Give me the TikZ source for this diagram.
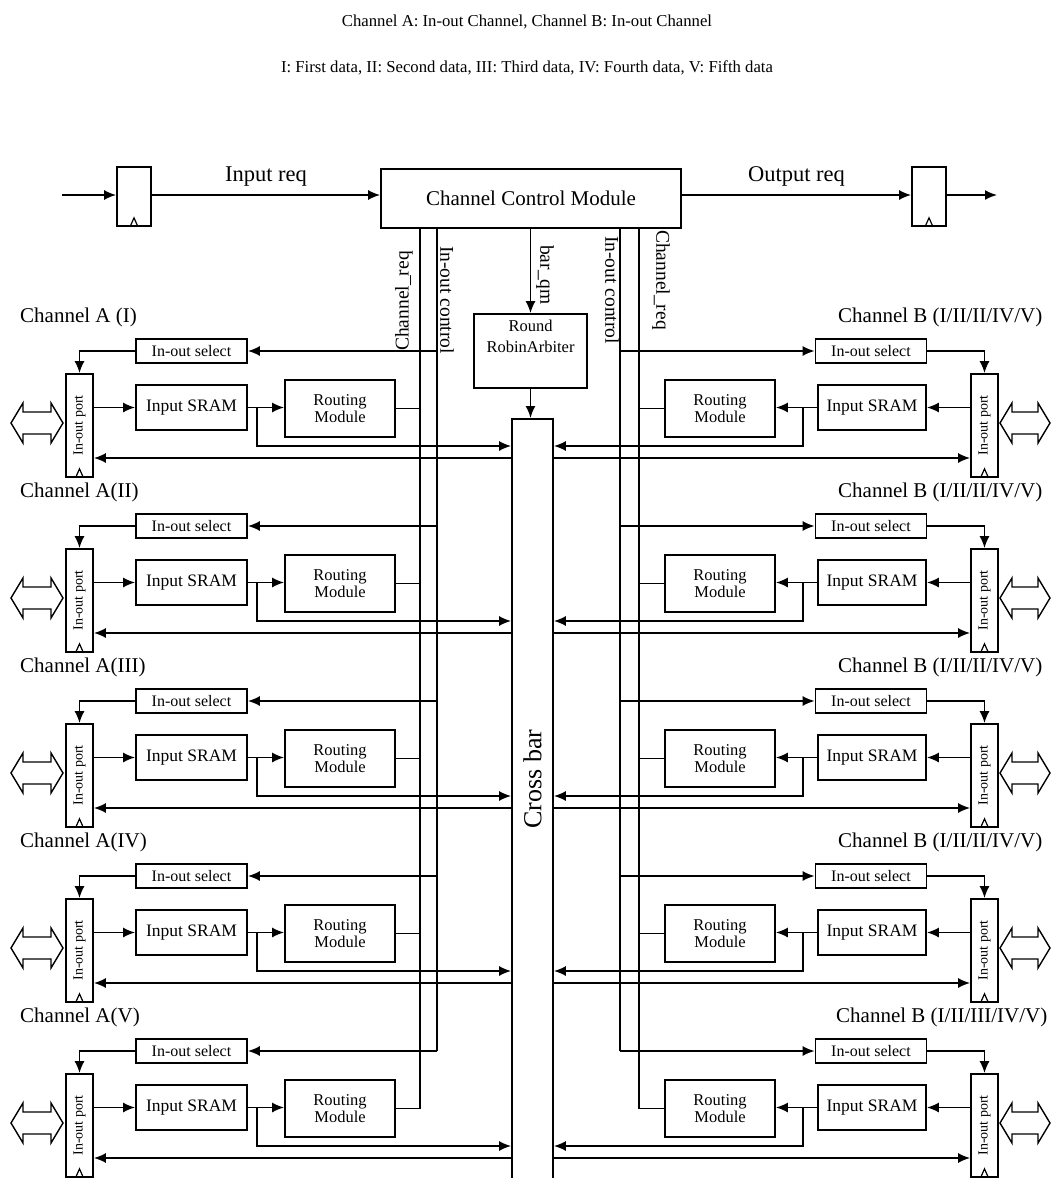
\documentclass[tikz,border=0pt]{standalone}
\usepackage{fontspec}
\setmainfont{Liberation Serif}
\usetikzlibrary{arrows.meta}

\tikzset{
  blk/.style={draw, line width=1.7pt, inner sep=0pt},
  ffbox/.style={blk, minimum width=34, minimum height=59},
  selbox/.style={blk, minimum width=111, minimum height=24, font=\fontsize{16}{16}\selectfont},
  srambox/.style={blk, minimum width=111, minimum height=45, font=\fontsize{17.5}{18}\selectfont},
  routbox/.style={blk, minimum width=110, minimum height=57, align=center, font=\fontsize{16.5}{17}\selectfont},
  portbox/.style={blk, minimum width=27, minimum height=103, font=\fontsize{14}{14}\selectfont},
  wire/.style={line width=1.7pt},
  arr/.style={wire, -{Latex[length=12pt,width=10pt]}},
  clk/.style={line width=1.2pt},
  bidir/.style={line width=1.4pt},
  chlab/.style={font=\fontsize{21}{21}\selectfont, inner sep=0pt},
  sig/.style={font=\fontsize{19.5}{20}\selectfont, inner sep=0pt},
}

\begin{document}
\begin{tikzpicture}[x=1pt,y=-1pt]
\useasboundingbox (0,0) rectangle (1053,1178);

% legend lines
\node[font=\fontsize{16.7}{17}\selectfont] (cap1) at (527,22) {Channel A: In-out Channel, Channel B: In-out Channel};
\node[font=\fontsize{16.7}{17}\selectfont] (cap2) at (527,68) {I: First data, II: Second data, III: Third data, IV: Fourth data, V: Fifth data};

% request path at the top
\coordinate (src) at (62,195);
\coordinate (dst) at (997,195);
\node[ffbox] (ffin) at (134,196.5) {};
\node[blk, minimum width=300, minimum height=59, font=\fontsize{21}{21}\selectfont] (ctl) at (531,198.5) {Channel Control Module};
\node[ffbox] (ffout) at (929,196.5) {};
\draw[arr] (src) -- (src -| ffin.west);
\draw[arr] (ffin.east |- src) -- (src -| ctl.west) node[midway, above=5pt, font=\fontsize{22.5}{23}\selectfont] {Input req};
\draw[arr] (ctl.east |- src) -- (src -| ffout.west) node[midway, above=5pt, font=\fontsize{22.5}{23}\selectfont] {Output req};
\draw[arr] (ffout.east |- src) -- (dst);
\foreach \n in {ffin,ffout}
  \draw[clk] ([xshift=-4]\n.south) -- ([yshift=9]\n.south) -- ([xshift=4]\n.south);

% arbiter and crossbar
\node[blk, minimum width=113, minimum height=74] (rra) at (530.5,351) {};
\node[anchor=north, align=center, inner sep=0pt, font=\fontsize{16.5}{21}\selectfont] (rratxt) at ([yshift=-7]rra.north) {Round\\RobinArbiter};
\node[blk, minimum width=41, minimum height=770, anchor=north] (xbar) at (532.5,418) {};
\node[rotate=90, font=\fontsize{26}{26}\selectfont] (xbartxt) at (532.5,779) {Cross bar};
\draw[arr] (ctl.south -| rra.north) -- (rra.north);
\draw[arr] (rra.south) -- (rra.south |- xbar.north);

% control lines
\coordinate (reqL) at (420,0);
\coordinate (ctlL) at (437,0);
\coordinate (ctlR) at (620,0);
\coordinate (reqR) at (639,0);

\foreach \k in {0,...,4}{
  \pgfmathsetmacro\dy{175*\k}
  % channel A side
  \node[portbox] (portA\k) at (79.5,425.5+\dy) {\rotatebox{90}{In-out port}};
  \node[selbox] (selA\k) at (191.5,351+\dy) {In-out select};
  \node[srambox] (sramA\k) at (191.5,407.5+\dy) {Input SRAM};
  \node[routbox] (routA\k) at (340,408.5+\dy) {Routing\\Module};
  \coordinate (inA\k) at (257,446+\dy);
  \coordinate (ret\k) at (0,458+\dy);
  \coordinate (bdA\k) at (11,423+\dy);
  \draw[arr] (selA\k.east -| ctlL) -- (selA\k.east);
  \draw[arr] (selA\k.west) -| (portA\k.north);
  \draw[arr] (portA\k.east |- sramA\k) -- (sramA\k.west);
  \draw[arr] (sramA\k.east) -- (sramA\k.east -| routA\k.west);
  \draw[wire] (routA\k.east) -- (routA\k.east -| reqL);
  \draw[arr] (sramA\k.east -| inA\k) -- (inA\k) -- (inA\k -| xbar.west);
  \draw[arr] (xbar.west |- ret\k) -- (portA\k.east |- ret\k);
  \draw[clk] ([xshift=-4]portA\k.south) -- ([yshift=9]portA\k.south) -- ([xshift=4]portA\k.south);
  \draw[bidir] (bdA\k) -- ++(12,-20) -- ++(0,9) -- ++(28,0) -- ++(0,-9) -- ++(12,20)
    -- ++(-12,20) -- ++(0,-9) -- ++(-28,0) -- ++(0,9) -- cycle;
  % channel B side
  \node[portbox] (portB\k) at (984.5,425.5+\dy) {\rotatebox{90}{In-out port}};
  \node[selbox] (selB\k) at (871,351+\dy) {In-out select};
  \node[srambox, minimum width=108] (sramB\k) at (872,407.5+\dy) {Input SRAM};
  \node[routbox] (routB\k) at (720,408.5+\dy) {Routing\\Module};
  \coordinate (inB\k) at (803,446+\dy);
  \coordinate (bdB\k) at (1000,423+\dy);
  \draw[arr] (selB\k.west -| ctlR) -- (selB\k.west);
  \draw[arr] (selB\k.east) -| (portB\k.north);
  \draw[arr] (portB\k.west |- sramB\k) -- (sramB\k.east);
  \draw[arr] (sramB\k.west) -- (sramB\k.west -| routB\k.east);
  \draw[wire] (routB\k.west) -- (routB\k.west -| reqR);
  \draw[arr] (sramB\k.west -| inB\k) -- (inB\k) -- (inB\k -| xbar.east);
  \draw[arr] (xbar.east |- ret\k) -- (portB\k.west |- ret\k);
  \draw[clk] ([xshift=-4]portB\k.south) -- ([yshift=9]portB\k.south) -- ([xshift=4]portB\k.south);
  \draw[bidir] (bdB\k) -- ++(12,-20) -- ++(0,9) -- ++(26,0) -- ++(0,-9) -- ++(12,20)
    -- ++(-12,20) -- ++(0,-9) -- ++(-26,0) -- ++(0,9) -- cycle;
}

\draw[wire] (ctl.south -| reqL) -- (routA4.east -| reqL);
\draw[wire] (ctl.south -| ctlL) -- (selA4.east -| ctlL);
\draw[wire] (ctl.south -| ctlR) -- (selB4.west -| ctlR);
\draw[wire] (ctl.south -| reqR) -- (routB4.west -| reqR);
\node[sig, rotate=90] (lreqL) at (404,301) {Channel\_req};
\node[sig, rotate=-90] (lctlL) at (447,300) {In-out control};
\node[sig, rotate=-90] (lbar) at (545,275) {bar\_qm};
\node[sig, rotate=-90] (lctlR) at (612,290) {In-out control};
\node[sig, rotate=-90] (lreqR) at (661,280) {Channel\_req};

% channel names
\foreach \k/\txt in {0/{Channel A (I)},1/{Channel A(II)},2/{Channel A(III)},3/{Channel A(IV)},4/{Channel A(V)}}
  \node[chlab, anchor=west] (labA\k) at (20,317+175*\k) {\txt};
\foreach \k in {0,...,3}
  \node[chlab, anchor=west] (labB\k) at (838,317+175*\k) {Channel B (I/II/II/IV/V)};
\node[chlab, anchor=west] (labB4) at (836,1017) {Channel B (I/II/III/IV/V)};
\end{tikzpicture}
\end{document}
